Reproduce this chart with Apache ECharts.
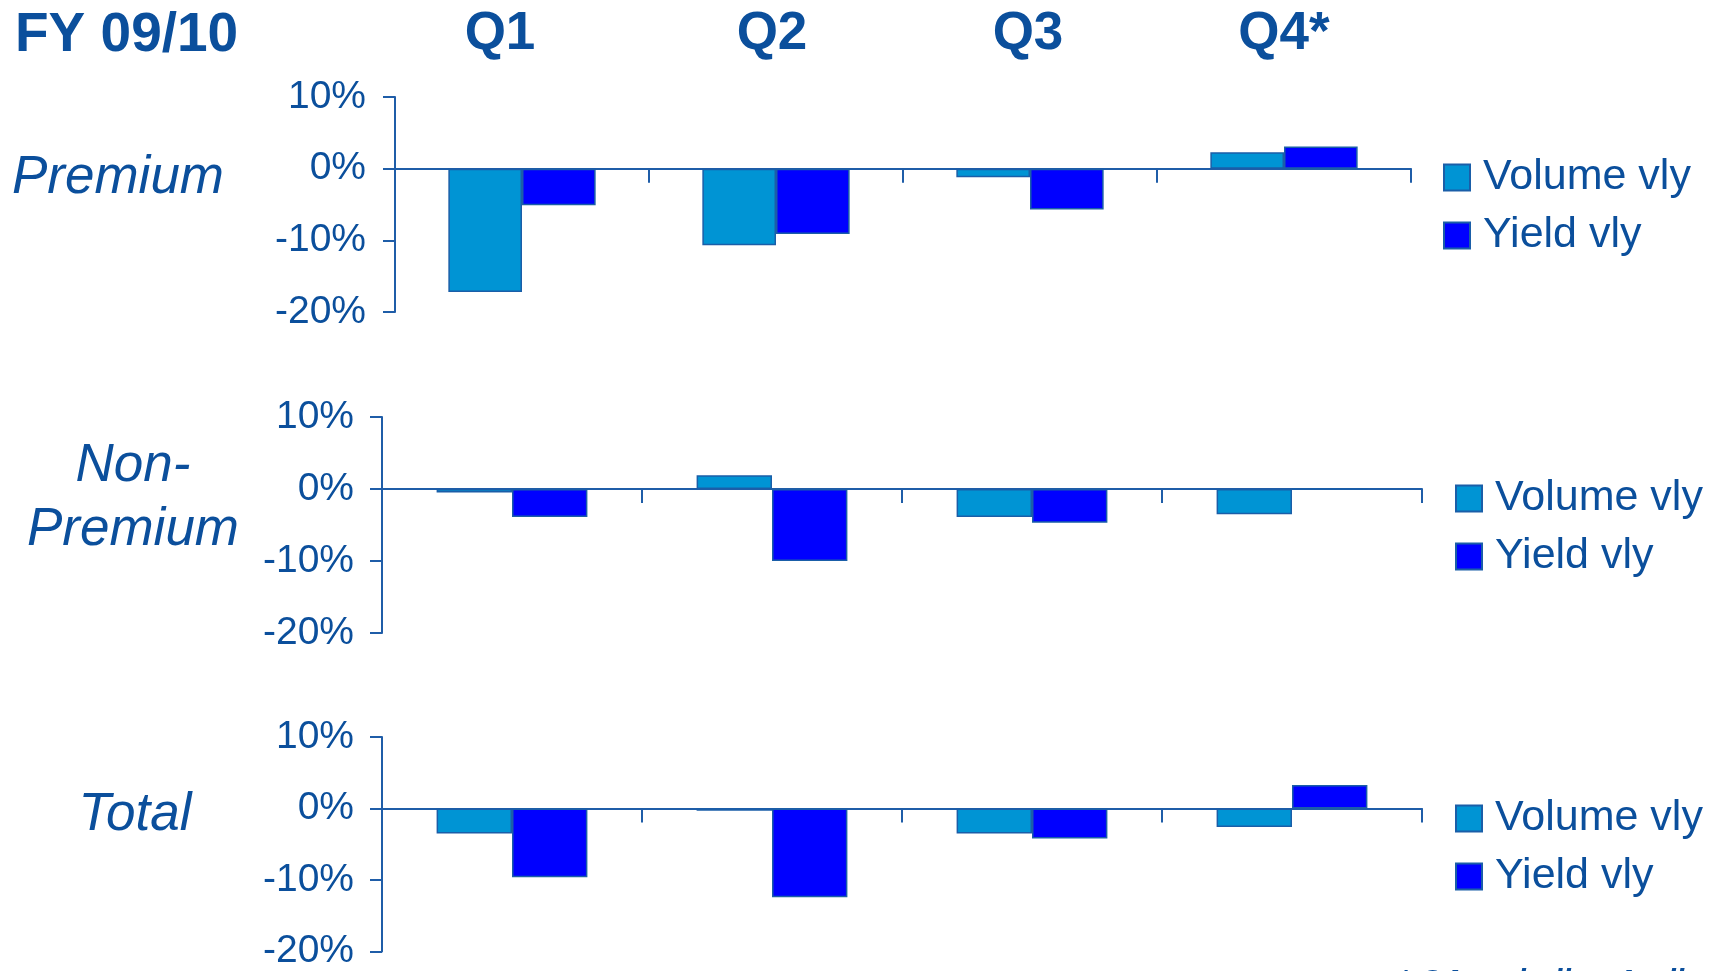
<!DOCTYPE html>
<html>
<head>
<meta charset="utf-8">
<script src="https://cdn.jsdelivr.net/npm/echarts@6/dist/echarts.min.js"></script>
<style>
html,body{margin:0;padding:0;background:#fff;}
#chart{width:1713px;height:971px;}
</style>
</head>
<body>
<div id="chart"></div>
<script>
// ---- data ----
const quarters = ['Q1', 'Q2', 'Q3', 'Q4*'];
const headerTitle = 'FY 09/10';
const rowTitles = [['Premium'], ['Non-', 'Premium'], ['Total']];
const seriesNames = ['Volume vly', 'Yield vly'];
const premiumVolume = [-17.2, -10.7, -1.2, 2.3];
const premiumYield = [-5.1, -9.1, -5.7, 3.1];
const nonPremiumVolume = [-0.5, 1.9, -3.9, -3.5];
const nonPremiumYield = [-3.9, -10.0, -4.7, 0];
const totalVolume = [-3.5, -0.3, -3.5, -2.6];
const totalYield = [-9.6, -12.4, -4.2, 3.3];
const yMin = -20, yMax = 10, yInterval = 10;
const footnote = '* Q4 excluding April';

// ---- styles ----
const FONT = "'Liberation Sans', Arial, sans-serif";
const TEXT = '#0B4F9C';
const AXIS = '#1F5DA8';
const VOL = '#0094D4';
const YLD = '#0000FF';
const BORDER = '#1A5EA8';

const grids = [
  {left: 395, top: 97, width: 1016, height: 215},
  {left: 382, top: 417, width: 1040, height: 216},
  {left: 382, top: 737, width: 1040, height: 215}
];
const labelMargins = [29, 28, 28];
const legendPos = [{left: 1443, top: 156}, {left: 1455, top: 477}, {left: 1455, top: 797}];
const volData = [premiumVolume, nonPremiumVolume, totalVolume];
const yldData = [premiumYield, nonPremiumYield, totalYield];

const xAxis = [], yAxis = [], series = [], legend = [];
grids.forEach((g, i) => {
  xAxis.push({
    type: 'category', gridIndex: i, data: quarters,
    axisLine: {show: true, onZero: true, lineStyle: {color: AXIS, width: 2}},
    axisTick: {show: true, length: 14, lineStyle: {color: AXIS, width: 2}},
    axisLabel: {show: false},
    splitLine: {show: false}
  });
  yAxis.push({
    type: 'value', gridIndex: i, min: yMin, max: yMax, interval: yInterval,
    axisLine: {show: true, lineStyle: {color: AXIS, width: 2}},
    axisTick: {show: true, length: 12, lineStyle: {color: AXIS, width: 2}},
    axisLabel: {margin: labelMargins[i], color: TEXT, fontSize: 39, fontFamily: FONT, formatter: v => v + '%'},
    splitLine: {show: false}
  });
  series.push({
    name: seriesNames[0], type: 'bar', xAxisIndex: i, yAxisIndex: i, data: volData[i],
    barCategoryGap: '42%', barGap: '0%',
    itemStyle: {color: VOL, borderColor: BORDER, borderWidth: 1.5}
  });
  series.push({
    name: seriesNames[1], type: 'bar', xAxisIndex: i, yAxisIndex: i, data: yldData[i],
    barCategoryGap: '42%', barGap: '0%',
    itemStyle: {color: YLD, borderColor: BORDER, borderWidth: 1.5}
  });
  legend.push({
    data: seriesNames, orient: 'vertical', left: legendPos[i].left, top: legendPos[i].top,
    padding: 0, itemWidth: 26, itemHeight: 26, itemGap: 15, icon: 'rect',
    selectedMode: false,
    textStyle: {color: TEXT, fontSize: 43, fontFamily: FONT, lineHeight: 43, padding: [0, 0, 0, 8]}
  });
});

const graphics = [];
graphics.push({type: 'text', left: 15, top: 8, style: {text: headerTitle, fill: TEXT, font: 'bold 55px ' + FONT}});
const headerCenters = [500, 772, 1028, 1284];
quarters.forEach((q, k) => {
  graphics.push({type: 'text', x: headerCenters[k], y: 8,
    style: {text: q, fill: TEXT, font: 'bold 53px ' + FONT, textAlign: 'center', textVerticalAlign: 'top'}});
});
const titleCenters = [118, 133, 135];
const titleTops = [[152], [440, 504], [789]];
rowTitles.forEach((lines, i) => {
  lines.forEach((t, j) => {
    graphics.push({type: 'text', x: titleCenters[i], y: titleTops[i][j],
      style: {text: t, fill: TEXT, font: 'italic 53px ' + FONT, textAlign: 'center', textVerticalAlign: 'top'}});
  });
});
graphics.push({type: 'text', x: 1399, y: 967,
  style: {text: footnote, fill: TEXT, font: 'italic bold 30px ' + FONT, textAlign: 'left', textVerticalAlign: 'top'}});

const chart = echarts.init(document.getElementById('chart'), null, {renderer: 'canvas'});
chart.setOption({
  animation: false,
  backgroundColor: '#fff',
  grid: grids.map(g => Object.assign({containLabel: false}, g)),
  xAxis, yAxis, series, legend,
  graphic: graphics
});
</script>
</body>
</html>
